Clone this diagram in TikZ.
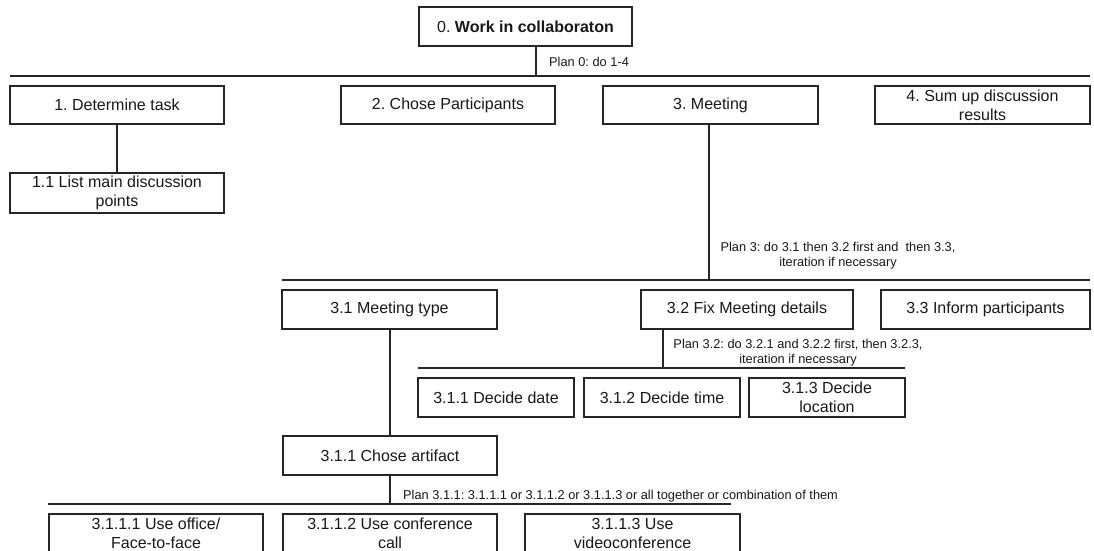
\documentclass[tikz,border=0pt]{standalone}
\usepackage{fontspec}
\setmainfont{Liberation Sans}
\frenchspacing
\begin{document}
\begin{tikzpicture}[x=1pt,y=-1pt,
  box/.style={draw=black!85, line width=1.1pt, fill=white, inner sep=0pt, align=center,
    font=\fontsize{16}{19}\selectfont, text=black!90, minimum height=39},
  conn/.style={draw=black!85, line width=1.1pt},
  plan/.style={font=\fontsize{12.8}{15}\selectfont, inner sep=0pt, align=center, text=black!90}]
\useasboundingbox (0,0) rectangle (1094,551);
\fill[white] (0,0) rectangle (1094,551);

% level 0
\node[box, minimum width=213] (n0) at (525.5,26.5) {0. \textbf{Work in collaboraton}};
\coordinate (j0) at (536,76);
\coordinate (b0l) at (10,76);
\coordinate (b0r) at (1090,76);
\draw[conn] (n0.south -| j0) -- (j0);
\draw[conn] (b0l) -- (b0r);
\node[plan, anchor=west] (p0) at (549,62) {Plan 0: do 1-4};

% level 1
\node[box, minimum width=214, minimum height=38] (n1) at (117,105) {1. Determine task};
\node[box, minimum width=214, minimum height=38] (n2) at (448,105) {2. Chose Participants};
\node[box, minimum width=215, minimum height=38] (n3) at (710.5,105) {3. Meeting};
\node[box, minimum width=215, minimum height=38] (n4) at (982.5,105) {4. Sum up discussion\\results};

\node[box, minimum width=214, minimum height=40] (n11) at (117,193) {1.1 List main discussion\\points};
\draw[conn] (n1) -- (n11);

% plan 3
\coordinate (j3) at (709,280);
\coordinate (b3l) at (282,280);
\coordinate (b3r) at (1090,280);
\draw[conn] (n3.south -| j3) -- (j3);
\draw[conn] (b3l) -- (b3r);
\node[plan] (p3) at (838,255.5) {Plan 3: do 3.1 then 3.2 first and~ then 3.3,\\iteration if necessary};

\node[box, minimum width=215] (n31) at (389.5,309.5) {3.1 Meeting type};
\node[box, minimum width=212] (n32) at (747,309.5) {3.2 Fix Meeting details};
\node[box, minimum width=209] (n33) at (985.5,309.5) {3.3 Inform participants};

% plan 3.2
\coordinate (j32) at (663,368);
\coordinate (b32l) at (418,368);
\coordinate (b32r) at (905,368);
\draw[conn] (n32.south -| j32) -- (j32);
\draw[conn] (b32l) -- (b32r);
\node[plan] (p32) at (798,353) {Plan 3.2: do 3.2.1 and 3.2.2 first, then 3.2.3,\\iteration if necessary};

\node[box, minimum width=156] (n321) at (496,397.5) {3.1.1 Decide date};
\node[box, minimum width=156] (n322) at (662,397.5) {3.1.2 Decide time};
\node[box, minimum width=156] (n323) at (827,397.5) {3.1.3 Decide\\location};

% 3.1 -> 3.1.1 chose artifact
\node[box, minimum width=214] (n311) at (390,455.5) {3.1.1 Chose artifact};
\draw[conn] (n31.south -| n311) -- (n311.north);

% plan 3.1.1
\coordinate (j311) at (390,504);
\coordinate (b311l) at (48,504);
\coordinate (b311r) at (731,504);
\draw[conn] (n311.south) -- (j311);
\draw[conn] (b311l) -- (b311r);
\node[plan, anchor=west] (p311) at (403,496) {Plan 3.1.1: 3.1.1.1 or 3.1.1.2 or 3.1.1.3 or all together or combination of them};

\node[box, minimum width=214] (n3111) at (156,533.5) {3.1.1.1 Use office/\\Face-to-face};
\node[box, minimum width=214] (n3112) at (390,533.5) {3.1.1.2 Use conference\\call};
\node[box, minimum width=215] (n3113) at (632.5,533.5) {3.1.1.3 Use\\videoconference};
\end{tikzpicture}
\end{document}
